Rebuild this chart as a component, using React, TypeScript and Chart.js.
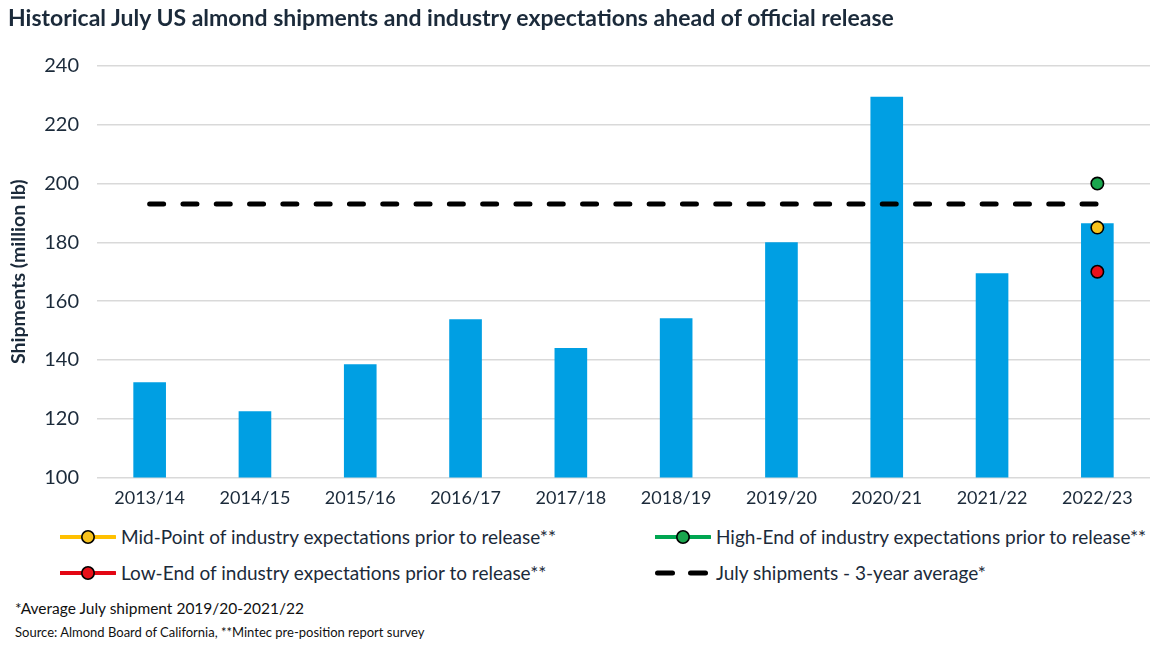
import React, { useEffect, useRef } from "react";
import { Chart, registerables } from "chart.js";

Chart.register(...registerables);

const categories = ["2013/14", "2014/15", "2015/16", "2016/17", "2017/18", "2018/19", "2019/20", "2020/21", "2021/22", "2022/23"];
const shipments = [132.4, 122.5, 138.5, 153.8, 144, 154.2, 180, 229.5, 169.5, 186.5];
const threeYearAvg = [193, 193, 193, 193, 193, 193, 193, 193, 193, 193];
const midPoint = [null, null, null, null, null, null, null, null, null, 185];
const highEnd = [null, null, null, null, null, null, null, null, null, 200];
const lowEnd = [null, null, null, null, null, null, null, null, null, 170];
const yTicks = [100, 120, 140, 160, 180, 200, 220, 240];

const TEXT = "#1b2a3a";
const FONT = "Lato, 'Open Sans', sans-serif";

function Marker({ color, dashed }: { color: string; dashed?: boolean }) {
  if (dashed) {
    return (
      <svg width="56" height="14" style={{ display: "block" }}>
        <line x1="2.5" y1="7" x2="17.5" y2="7" stroke="#000" strokeWidth="5" strokeLinecap="round" />
        <line x1="35.5" y1="7" x2="50.5" y2="7" stroke="#000" strokeWidth="5" strokeLinecap="round" />
      </svg>
    );
  }
  return (
    <svg width="56" height="16" style={{ display: "block" }}>
      <line x1="0" y1="8" x2="55" y2="8" stroke={color} strokeWidth="4" strokeLinecap="round" />
      <circle cx="28" cy="8" r="6.2" fill={color === "#ffc000" ? "#f7c21c" : color === "#00a651" ? "#1aa64e" : "#e8101a"} stroke="#000" strokeWidth="1.6" />
    </svg>
  );
}

export default function App() {
  const ref = useRef<HTMLCanvasElement>(null);

  useEffect(() => {
    document.body.style.margin = "0";
    const ctx = ref.current!.getContext("2d")!;
    const chart = new Chart(ctx, {
      type: "bar",
      data: {
        labels: categories,
        datasets: [
          {
            type: "line",
            label: "Mid-Point",
            data: midPoint as any,
            showLine: false,
            pointRadius: 6.2,
            pointBorderWidth: 1.6,
            pointBackgroundColor: "#f7c21c",
            pointBorderColor: "#000",
            order: 1,
          },
          {
            type: "line",
            label: "High-End",
            data: highEnd as any,
            showLine: false,
            pointRadius: 6.2,
            pointBorderWidth: 1.6,
            pointBackgroundColor: "#1aa64e",
            pointBorderColor: "#000",
            order: 1,
          },
          {
            type: "line",
            label: "Low-End",
            data: lowEnd as any,
            showLine: false,
            pointRadius: 6.2,
            pointBorderWidth: 1.6,
            pointBackgroundColor: "#e8101a",
            pointBorderColor: "#000",
            order: 1,
          },
          {
            type: "line",
            label: "July shipments - 3-year average*",
            data: threeYearAvg,
            borderColor: "#000",
            borderWidth: 5,
            borderDash: [14, 19.3],
            borderCapStyle: "round",
            pointRadius: 0,
            fill: false,
            order: 2,
          },
          {
            type: "bar",
            label: "July shipments",
            data: shipments,
            backgroundColor: "#009fe3",
            borderWidth: 0,
            categoryPercentage: 1,
            barPercentage: 0.31,
            order: 3,
          },
        ],
      },
      options: {
        animation: false,
        responsive: false,
        maintainAspectRatio: false,
        layout: { padding: { top: 66, right: 12, bottom: 6, left: 0 } },
        plugins: {
          legend: { display: false },
          tooltip: { enabled: false },
          title: { display: false },
        },
        scales: {
          x: {
            grid: { display: false, drawTicks: false },
            border: { display: false },
            ticks: {
              color: TEXT,
              font: { family: FONT, size: 18 },
              padding: 10,
              maxRotation: 0,
            },
          },
          y: {
            min: 100,
            max: 240,
            afterBuildTicks: (scale: any) => {
              scale.ticks = yTicks.map((v) => ({ value: v }));
            },
            afterFit: (scale: any) => {
              scale.width = 97;
            },
            grid: { color: "#d9d9d9", lineWidth: 1.5, drawTicks: false },
            border: { display: false },
            ticks: {
              color: TEXT,
              font: { family: FONT, size: 20 },
              padding: 18,
            },
            title: {
              display: true,
              text: "Shipments (million lb)",
              color: TEXT,
              font: { family: FONT, size: 19.5, weight: "bold" },
              padding: { top: 7, bottom: 0 },
            },
          },
        },
      },
    });
    return () => chart.destroy();
  }, []);

  const legendText: React.CSSProperties = {
    fontFamily: FONT,
    fontSize: 19,
    color: TEXT,
    whiteSpace: "nowrap",
    lineHeight: "20px",
  };

  const item = (x: number, y: number, color: string, text: string, dashed?: boolean) => (
    <div style={{ position: "absolute", left: x, top: y - 10, display: "flex", alignItems: "center", height: 20 }}>
      <Marker color={color} dashed={dashed} />
      <span style={{ ...legendText, marginLeft: 5 }}>{text}</span>
    </div>
  );

  return (
    <div style={{ position: "relative", width: 1162, height: 648, background: "#fff", overflow: "hidden" }}>
      <canvas ref={ref} width={1162} height={525} style={{ position: "absolute", left: 0, top: 0 }} />
      <div
        style={{
          position: "absolute",
          left: 8,
          top: 3,
          fontFamily: FONT,
          fontWeight: 700,
          fontSize: 23,
          color: TEXT,
          whiteSpace: "nowrap",
        }}
      >
        Historical July US almond shipments and industry expectations ahead of official release
      </div>
      {item(60, 537, "#ffc000", "Mid-Point of industry expectations prior to release**")}
      {item(655, 537, "#00a651", "High-End of industry expectations prior to release**")}
      {item(60, 573, "#e30613", "Low-End of industry expectations prior to release**")}
      {item(655, 573, "#000", "July shipments - 3-year average*", true)}
      <div style={{ position: "absolute", left: 15, top: 599, fontFamily: FONT, fontSize: 15.5, color: "#111", whiteSpace: "nowrap" }}>
        *Average July shipment 2019/20-2021/22
      </div>
      <div style={{ position: "absolute", left: 15, top: 624, fontFamily: FONT, fontSize: 13, color: "#111", whiteSpace: "nowrap" }}>
        Source: Almond Board of California, **Mintec pre-position report survey
      </div>
    </div>
  );
}
